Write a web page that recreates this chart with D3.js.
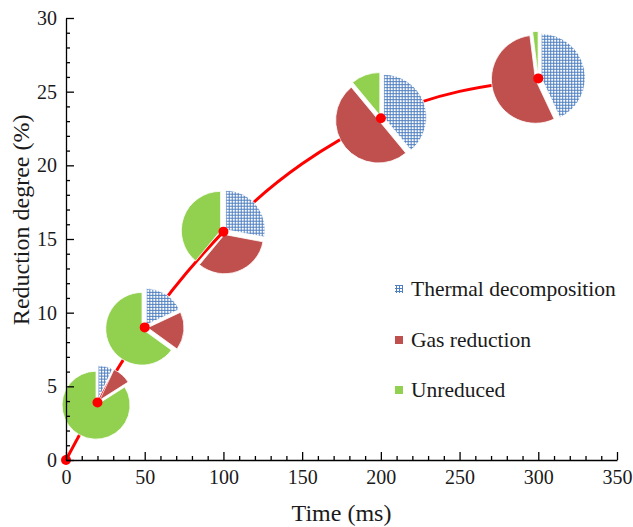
<!DOCTYPE html>
<html>
<head>
<meta charset="utf-8">
<script src="https://cdn.jsdelivr.net/npm/d3@7"></script>
<style>
  html, body { margin: 0; padding: 0; background: #fff; }
  svg { display: block; }
  svg text { font-family: "Liberation Serif", "Times New Roman", "DejaVu Serif", serif !important; fill: #1a1a1a; }
</style>
</head>
<body>
<svg id="chart" width="633" height="527"></svg>
<script>
// ---- data ----
const pieTimes = [20, 50, 100, 200, 300];                 // ms
const pieDegree = [3.9, 9.0, 15.5, 23.2, 25.9];          // reduction degree (%)
const thermalShare = [7, 18, 28, 39, 43];                // %
const gasShare = [9, 17, 33, 50, 55];                    // %
const unreducedShare = [84, 65, 39, 11, 2];              // %
const curveTimes = [0, 20, 50, 100, 200, 300];
const curveDegree = [0, 3.9, 9.0, 15.5, 23.2, 25.9];
const seriesNames = ["Thermal decomposition", "Gas reduction", "Unreduced"];
const xTicks = [0, 50, 100, 150, 200, 250, 300, 350];
const yTicks = [0, 5, 10, 15, 20, 25, 30];

// ---- setup ----
const svg = d3.select("#chart");
const x = d3.scaleLinear().domain([0, 350]).range([66, 617]);
const y = d3.scaleLinear().domain([0, 30]).range([460, 18]);
const rScale = d3.scaleLinear().domain([d3.min(pieDegree), d3.max(pieDegree)]).range([34, 44]);
const colors = ["url(#grid)", "#c0504d", "#92d050"];
const serif = "'Liberation Serif', 'Times New Roman', serif";

const defs = svg.append("defs");
const pat = defs.append("pattern").attr("id", "grid").attr("patternUnits", "userSpaceOnUse")
  .attr("width", 3).attr("height", 3);
pat.append("rect").attr("width", 3).attr("height", 3).attr("fill", "#ffffff");
pat.append("rect").attr("width", 3).attr("height", 1).attr("fill", "#4f7fc0");
pat.append("rect").attr("width", 1).attr("height", 3).attr("fill", "#4f7fc0");

// ---- curve ----
const curveData = curveTimes.map((t, i) => [t, curveDegree[i]]);
svg.append("path")
  .datum(curveData)
  .attr("fill", "none")
  .attr("stroke", "#ff0000")
  .attr("stroke-width", 3)
  .attr("d", d3.line().x(d => x(d[0])).y(d => y(d[1])).curve(d3.curveMonotoneX));

// ---- pies ----
const pieGen = d3.pie().sort(null).value(d => d);
pieTimes.forEach((t, i) => {
  const r = rScale(pieDegree[i]);
  const arc = d3.arc().innerRadius(0).outerRadius(r);
  const ex = 3;
  const g = svg.append("g").attr("transform", `translate(${x(t)},${y(pieDegree[i])})`);
  const arcs = pieGen([thermalShare[i], gasShare[i], unreducedShare[i]]);
  g.selectAll("path").data(arcs).join("path")
    .attr("d", arc)
    .attr("fill", (d, k) => colors[k])
    .attr("stroke", "#fff")
    .attr("stroke-width", 0.8)
    .attr("transform", d => {
      const a = (d.startAngle + d.endAngle) / 2;
      return `translate(${Math.sin(a) * ex},${-Math.cos(a) * ex})`;
    });
});

// ---- points ----
svg.selectAll("circle.pt").data(curveData).join("circle")
  .attr("class", "pt")
  .attr("cx", d => x(d[0])).attr("cy", d => y(d[1]))
  .attr("r", 5).attr("fill", "#ff0000");

// ---- axes ----
const fontSize = "20px";
const xAxis = svg.append("g").attr("transform", `translate(0,${y(0)})`)
  .call(d3.axisBottom(x).tickValues(xTicks).tickSizeInner(-8).tickSizeOuter(0).tickPadding(10).tickFormat(d3.format("d")));
const xMinor = svg.append("g").attr("transform", `translate(0,${y(0)})`)
  .call(d3.axisBottom(x).tickValues(d3.range(0, 351, 10).filter(v => v % 50 !== 0)).tickSizeInner(-4).tickSizeOuter(0).tickFormat(""));
xMinor.select(".domain").remove();
const yAxis = svg.append("g").attr("transform", `translate(${x(0)},0)`)
  .call(d3.axisLeft(y).tickValues(yTicks).tickSizeInner(-8).tickSizeOuter(0).tickPadding(9).tickFormat(d3.format("d")));
const yMinor = svg.append("g").attr("transform", `translate(${x(0)},0)`)
  .call(d3.axisLeft(y).tickValues(d3.range(0, 31, 1).filter(v => v % 5 !== 0)).tickSizeInner(-4).tickSizeOuter(0).tickFormat(""));
yMinor.select(".domain").remove();

[xAxis, yAxis, xMinor, yMinor].forEach(a => {
  a.attr("font-family", serif);
  a.selectAll("line").attr("stroke", "#000").attr("stroke-width", 1.3);
  a.select(".domain").attr("stroke", "#000").attr("stroke-width", 1.3);
  a.selectAll("text").attr("font-size", fontSize).attr("fill", "#1a1a1a");
});

// axis titles
svg.append("text").attr("x", x(175)).attr("y", 521).attr("text-anchor", "middle")
  .attr("font-family", serif).attr("font-size", "24px").text("Time (ms)");
svg.append("text").attr("transform", `translate(29,${y(16.3)}) rotate(-90)`).attr("text-anchor", "middle")
  .attr("font-family", serif).attr("font-size", "24px").text("Reduction degree (%)");

// ---- legend ----
const legendY = [289, 340, 390];
const lg = svg.append("g");
seriesNames.forEach((name, k) => {
  lg.append("rect").attr("x", 395).attr("y", legendY[k] - 4).attr("width", 8).attr("height", 8)
    .attr("fill", colors[k]);
  lg.append("text").attr("x", 411).attr("y", legendY[k] + 7).attr("font-family", serif)
    .attr("font-size", "21.5px").text(name);
});
</script>
</body>
</html>
